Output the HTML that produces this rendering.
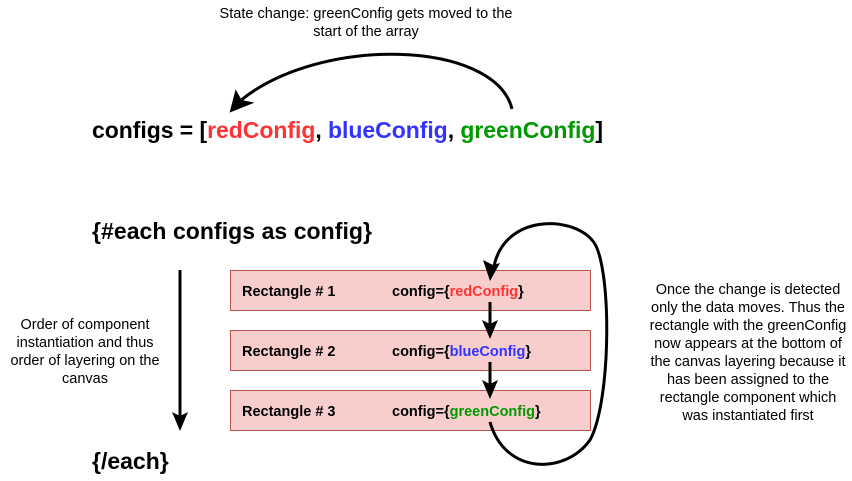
<!DOCTYPE html>
<html><head><style>body{margin:0;background:#fff}svg{display:block}</style></head><body>
<svg width="852" height="481" viewBox="0 0 852 481" xmlns="http://www.w3.org/2000/svg" font-family="Liberation Sans, Arial, sans-serif">
<text x="366" y="18" font-size="14.5" text-anchor="middle" textLength="293">State change: greenConfig gets moved to the</text>
<text x="366" y="36" font-size="14.5" text-anchor="middle">start of the array</text>
<path d="M512,109 C495,40 320,35 240,101" fill="none" stroke="#000" stroke-width="3"/>
<path d="M231,111 L236,92 L241,101 L251,103 Z" fill="#000" stroke="#000" stroke-width="2"/>
<text x="92" y="138" font-size="23" font-weight="bold" textLength="511">configs = [<tspan fill="#ff3333">redConfig</tspan>, <tspan fill="#3333ff">blueConfig</tspan>, <tspan fill="#009900">greenConfig</tspan>]</text>
<text x="92" y="239" font-size="23" font-weight="bold" textLength="280">{#each configs as config}</text>
<text x="92" y="469" font-size="23" font-weight="bold">{/each}</text>
<g fill="#f8cecc" stroke="#b85450" stroke-width="1">
<rect x="230.5" y="270.5" width="360" height="40"/>
<rect x="230.5" y="330.5" width="360" height="40"/>
<rect x="230.5" y="390.5" width="360" height="40"/>
</g>
<g font-size="14.5" font-weight="bold">
<text x="242" y="296">Rectangle # 1</text>
<text x="392" y="296">config={<tspan fill="#ff3333">redConfig</tspan>}</text>
<text x="242" y="356">Rectangle # 2</text>
<text x="392" y="356">config={<tspan fill="#3333ff">blueConfig</tspan>}</text>
<text x="242" y="416">Rectangle # 3</text>
<text x="392" y="416">config={<tspan fill="#009900">greenConfig</tspan>}</text>
</g>
<g stroke="#000" stroke-width="3" fill="none">
<line x1="180" y1="270" x2="180" y2="416"/>
<line x1="490" y1="302" x2="490" y2="326"/>
<line x1="490" y1="362" x2="490" y2="386"/>
<path d="M490,422 C505,475 565,475 590,440 C612,400 612,260 592,240 C570,215 505,215 494,266"/>
</g>
<g fill="#000">
<path d="M172,412 L180,431 L188,412 L180,416 Z"/>
<path d="M482,320 L490,339 L498,320 L490,324 Z"/>
<path d="M482,380 L490,399 L498,380 L490,384 Z"/>
<path d="M483,260 L490,281 L500,263 L493,265 Z"/>
</g>
<g font-size="14.5" text-anchor="middle">
<text x="85" y="329">Order of component</text>
<text x="85" y="347">instantiation and thus</text>
<text x="85" y="365">order of layering on the</text>
<text x="85" y="383">canvas</text>
<text x="748" y="294">Once the change is detected</text>
<text x="748" y="312">only the data moves. Thus the</text>
<text x="748" y="330">rectangle with the greenConfig</text>
<text x="748" y="348">now appears at the bottom of</text>
<text x="748" y="366">the canvas layering because it</text>
<text x="748" y="384">has been assigned to the</text>
<text x="748" y="402">rectangle component which</text>
<text x="748" y="420">was instantiated first</text>
</g>
</svg>
</body></html>
